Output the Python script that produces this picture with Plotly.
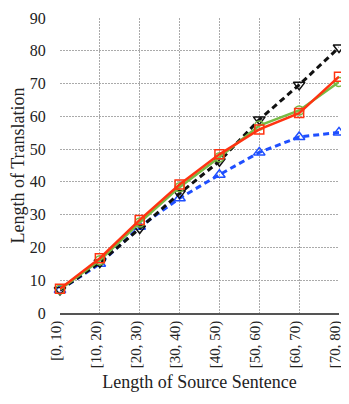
import plotly.graph_objects as go

categories = ["[0, 10)", "[10, 20)", "[20, 30)", "[30, 40)", "[40, 50)", "[50, 60)", "[60, 70)", "[70, 80)"]
red_vals = [7.4, 16.7, 28.4, 39.2, 48.4, 56.0, 61.0, 72.1]
green_vals = [7.2, 16.1, 27.6, 38.4, 47.5, 57.2, 61.8, 70.5]
black_vals = [7.0, 15.4, 25.8, 36.5, 46.3, 59.0, 69.6, 81.0]
blue_vals = [7.0, 15.0, 26.3, 35.0, 42.2, 49.0, 53.7, 55.1]
y_ticks = [0, 10, 20, 30, 40, 50, 60, 70, 80, 90]

xs = list(range(len(categories)))

fig = go.Figure()
fig.add_trace(go.Scatter(x=xs, y=blue_vals, mode="lines+markers",
    line=dict(color="#1f4fff", width=3, dash="6px,4px"),
    marker=dict(symbol="triangle-up-open", size=10, color="#1f4fff", line=dict(width=1.5)),
    cliponaxis=False))
fig.add_trace(go.Scatter(x=xs, y=black_vals, mode="lines+markers",
    line=dict(color="#111111", width=3, dash="6px,4px"),
    marker=dict(symbol="triangle-down-open", size=10, color="#111111", line=dict(width=1.5)),
    cliponaxis=False))
fig.add_trace(go.Scatter(x=xs, y=green_vals, mode="lines+markers",
    line=dict(color="#77bb44", width=2.5),
    marker=dict(symbol="circle-open", size=9, color="#77bb44", line=dict(width=1.5)),
    cliponaxis=False))
fig.add_trace(go.Scatter(x=xs, y=red_vals, mode="lines+markers",
    line=dict(color="#ff3311", width=2.5),
    marker=dict(symbol="square-open", size=9, color="#ff3311", line=dict(width=1.5)),
    cliponaxis=False))

font = "Liberation Serif, Times New Roman, serif"
fig.update_layout(
    width=341, height=396,
    margin=dict(l=52, r=10, t=10, b=91),
    paper_bgcolor="white", plot_bgcolor="white",
    showlegend=False,
    font=dict(family=font, size=16, color="#222"),
    xaxis=dict(range=[0, 7], tickvals=xs, ticktext=categories, tickangle=-90,
               showgrid=True, gridcolor="#aaa", griddash="2px,1px", gridwidth=1,
               zeroline=False, showline=True, linecolor="#555", linewidth=1.5,
               ticks="", automargin=False, ticklabeloverflow="allow",
               ticklabelshift=-4,
               tickfont=dict(size=15, family=font),
               title=dict(text="Length of Source Sentence", font=dict(size=18, family=font), standoff=8)),
    yaxis=dict(range=[0, 90], tickvals=y_ticks,
               showgrid=True, gridcolor="#aaa", griddash="2px,1px", gridwidth=1,
               zeroline=False, showline=False,
               ticks="outside", ticklen=10, tickcolor="rgba(0,0,0,0)",
               automargin=False, ticklabeloverflow="allow",
               tickfont=dict(size=16, family=font),
               title=dict(text="Length of Translation", font=dict(size=18, family=font), standoff=4)),
)
fig.write_html("out.html")
